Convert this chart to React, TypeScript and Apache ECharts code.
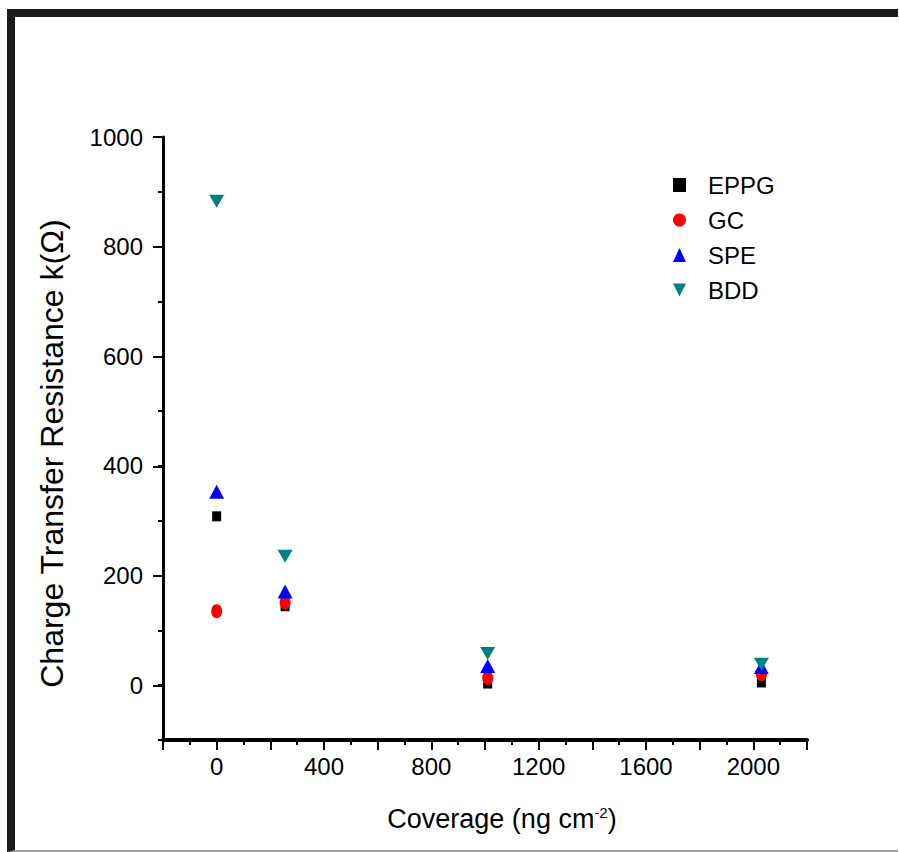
import { useEffect, useRef } from 'react'
import * as echarts from 'echarts'

const seriesNames = ['EPPG', 'GC', 'SPE', 'BDD']
const coverage = [0, 255, 1010, 2030]
const eppgValues = [308, 144, 3, 5]
const gcValues = [135, 151, 13, 20]
const speValues = [353, 171, 35, 33]
const bddValues = [883, 235, 58, 38]
const xTickLabels = [0, 400, 800, 1200, 1600, 2000]
const yTickLabels = [0, 200, 400, 600, 800, 1000]

const FONT = "'Liberation Sans', Arial, sans-serif"
const DOWN_TRIANGLE = 'path://M0,0 L10,0 L5,10 Z'

const pairs = (values: number[]) => coverage.map((x, i) => [x, values[i]])

export default function App() {
  const chartRef = useRef<HTMLDivElement | null>(null)

  useEffect(() => {
    if (!chartRef.current) {
      return
    }

    const chart = echarts.init(chartRef.current, null, { renderer: 'svg' })
    chart.setOption({
      animation: false,
      legend: {
        data: seriesNames,
        orient: 'vertical',
        left: 668,
        top: 168,
        itemWidth: 13,
        itemHeight: 14,
        itemGap: 11,
        textStyle: { fontSize: 24, color: '#000', fontFamily: FONT, padding: [0, 0, 0, 17] },
      },
      grid: [
        { left: 163, right: 92, top: 137, bottom: 112 },
        // only carries the longer major ticks of the y axis (0..1000)
        { left: 163, right: 92, top: 137, bottom: 166 },
      ],
      xAxis: [
        {
          type: 'value',
          gridIndex: 0,
          min: -200,
          max: 2200,
          interval: 200,
          name: 'Coverage (ng cm{sup|-2})',
          nameLocation: 'middle',
          nameGap: 65,
          nameTextStyle: {
            fontSize: 27,
            color: '#000',
            fontFamily: FONT,
            padding: [0, 0, 0, 34],
            rich: {
              sup: { fontSize: 15, fontFamily: FONT, color: '#000', verticalAlign: 'top', padding: [0, 0, 12, 0] },
            },
          },
          axisLine: { onZero: false, lineStyle: { color: '#000', width: 4 } },
          axisTick: { length: 10, lineStyle: { color: '#000', width: 2 } },
          minorTick: { show: true, splitNumber: 2, length: 5, lineStyle: { color: '#000', width: 2 } },
          splitLine: { show: false },
          axisLabel: {
            margin: 14,
            fontSize: 24,
            color: '#000',
            fontFamily: FONT,
            formatter: (v: number) => (xTickLabels.includes(v) ? String(v) : ''),
          },
        },
        {
          type: 'value',
          gridIndex: 1,
          min: -200,
          max: 2200,
          show: false,
        },
      ],
      yAxis: [
        {
          type: 'value',
          gridIndex: 0,
          min: -100,
          max: 1000,
          interval: 100,
          name: 'Charge Transfer Resistance k(Ω)',
          nameLocation: 'middle',
          nameRotate: 90,
          nameGap: 95,
          nameTextStyle: { fontSize: 32, color: '#000', fontFamily: FONT, padding: [0, 30, 0, 0] },
          axisLine: { onZero: false, lineStyle: { color: '#000', width: 3 } },
          axisTick: { length: 5, lineStyle: { color: '#000', width: 2 } },
          splitLine: { show: false },
          axisLabel: {
            margin: 20,
            fontSize: 24,
            color: '#000',
            fontFamily: FONT,
            formatter: (v: number) => (yTickLabels.includes(v) ? String(v) : ''),
          },
        },
        {
          type: 'value',
          gridIndex: 1,
          min: 0,
          max: 1000,
          interval: 200,
          axisLine: { show: false, onZero: false },
          axisTick: { length: 10, lineStyle: { color: '#000', width: 2 } },
          axisLabel: { show: false },
          splitLine: { show: false },
        },
      ],
      series: [
        {
          name: 'EPPG',
          type: 'scatter',
          symbol: 'rect',
          symbolSize: [9, 10],
          itemStyle: { color: '#000000', opacity: 1 },
          data: pairs(eppgValues),
        },
        {
          name: 'GC',
          type: 'scatter',
          symbol: 'circle',
          symbolSize: [11, 14],
          itemStyle: { color: '#ff0000', opacity: 1 },
          data: pairs(gcValues),
        },
        {
          name: 'SPE',
          type: 'scatter',
          symbol: 'triangle',
          symbolSize: [15, 14],
          itemStyle: { color: '#0000ff', opacity: 1 },
          data: pairs(speValues),
        },
        {
          name: 'BDD',
          type: 'scatter',
          symbol: DOWN_TRIANGLE,
          symbolSize: [15, 13],
          itemStyle: { color: '#008080', opacity: 1 },
          data: pairs(bddValues),
        },
      ],
    })

    return () => {
      chart.dispose()
    }
  }, [])

  return (
    <div style={{ position: 'fixed', left: 0, top: 0, width: 899, height: 852, background: '#fff' }}>
      <div
        style={{
          position: 'absolute',
          left: 7,
          top: 9,
          right: 1,
          bottom: 0,
          borderTop: '8px solid #1e1a17',
          borderLeft: '8px solid #1e1a17',
          borderBottom: '2px solid #a0a0a0',
        }}
      />
      <div ref={chartRef} style={{ position: 'absolute', left: 0, top: 0, width: 899, height: 852 }} />
    </div>
  )
}
